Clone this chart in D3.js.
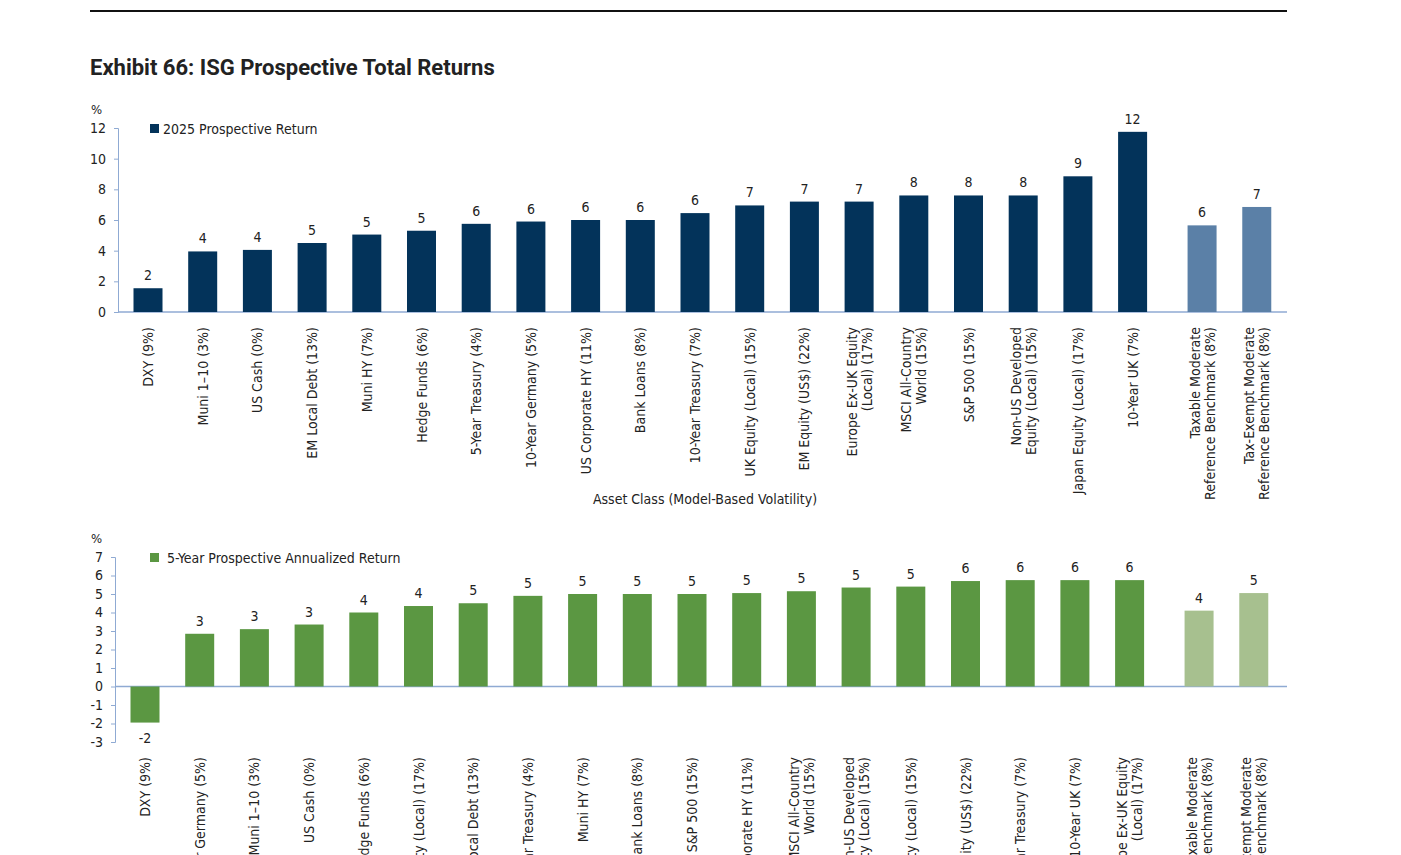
<!DOCTYPE html>
<html>
<head>
<meta charset="utf-8">
<script src="https://cdn.jsdelivr.net/npm/d3@7"></script>
<style>
  body { margin: 0; background: #fff; }
  svg text { font-family: "DejaVu Sans Condensed", "DejaVu Sans", sans-serif; font-stretch: condensed; fill: #222; }
</style>
</head>
<body>
<svg id="chart" width="1401" height="855"></svg>
<script>
'use strict'

// top chart data
const topCats = ['DXY (9%)', 'Muni 1–10 (3%)', 'US Cash (0%)', 'EM Local Debt (13%)', 'Muni HY (7%)',
  'Hedge Funds (6%)', '5-Year Treasury (4%)', '10-Year Germany (5%)', 'US Corporate HY (11%)', 'Bank Loans (8%)',
  '10-Year Treasury (7%)', 'UK Equity (Local) (15%)', 'EM Equity (US$) (22%)', 'Europe Ex-UK Equity|(Local) (17%)',
  'MSCI All-Country|World (15%)', 'S&P 500 (15%)', 'Non-US Developed|Equity (Local) (15%)', 'Japan Equity (Local) (17%)',
  '10-Year UK (7%)', 'Taxable Moderate|Reference Benchmark (8%)', 'Tax-Exempt Moderate|Reference Benchmark (8%)']
const topVals = [1.55, 3.95, 4.05, 4.5, 5.05, 5.3, 5.75, 5.9, 6.0, 6.0, 6.45, 6.95, 7.2, 7.2, 7.6, 7.6, 7.6, 8.85, 11.75, 5.65, 6.85]
const topTicks = [0, 2, 4, 6, 8, 10, 12]

// bottom chart data
const botCats = ['DXY (9%)', '10-Year Germany (5%)', 'Muni 1–10 (3%)', 'US Cash (0%)', 'Hedge Funds (6%)',
  'Japan Equity (Local) (17%)', 'EM Local Debt (13%)', '5-Year Treasury (4%)', 'Muni HY (7%)', 'Bank Loans (8%)',
  'S&P 500 (15%)', 'US Corporate HY (11%)', 'MSCI All-Country|World (15%)', 'Non-US Developed|Equity (Local) (15%)',
  'UK Equity (Local) (15%)', 'EM Equity (US$) (22%)', '10-Year Treasury (7%)', '10-Year UK (7%)',
  'Europe Ex-UK Equity|(Local) (17%)', 'Taxable Moderate|Reference Benchmark (8%)', 'Tax-Exempt Moderate|Reference Benchmark (8%)']
const botVals = [-1.95, 2.85, 3.1, 3.35, 4.0, 4.35, 4.5, 4.9, 5.0, 5.0, 5.0, 5.05, 5.15, 5.35, 5.4, 5.7, 5.75, 5.75, 5.75, 4.1, 5.05]
const botTicks = [-3, -2, -1, 0, 1, 2, 3, 4, 5, 6, 7]

const benchStart = 19
const axisColor = '#8faad3'
const svg = d3.select('#chart')

svg.append('line').attr('x1', 90).attr('x2', 1287).attr('y1', 11).attr('y2', 11)
  .attr('stroke', '#111').attr('stroke-width', 2)
svg.append('text').attr('x', 90).attr('y', 75).attr('font-size', 22).attr('font-weight', 'bold')
  .style('font-family', 'Roboto, sans-serif').style('font-stretch', 'normal').text('Exhibit 66: ISG Prospective Total Returns')

const drawPanel = (cats, vals, ticks, opt) => {
  const g = svg.append('g')
  // position index with a small gap before the benchmarks
  const slot = i => i < benchStart ? i : i + 0.27
  const x = d3.scaleLinear().domain([0, 20.27]).range([opt.x0, opt.x0 + 20.27 * 54.7])
  const y = d3.scaleLinear().domain(opt.dom).range(opt.rng)
  const bw = 29

  g.append('g').attr('transform', `translate(${opt.axisX},0)`)
    .call(d3.axisLeft(y).tickValues(ticks).tickSize(4).tickFormat(d => String(d)))
    .call(a => a.selectAll('line, path').attr('stroke', axisColor))
    .call(a => a.selectAll('text').attr('font-size', 14).attr('fill', '#222').attr('x', -12))
  g.append('line').attr('x1', opt.axisX).attr('x2', 1287).attr('y1', y(0)).attr('y2', y(0))
    .attr('stroke', axisColor).attr('stroke-width', 1.5)
  g.append('text').attr('x', 91).attr('y', y(ticks[ticks.length - 1]) - 14).attr('font-size', 13).text('%')

  g.selectAll('rect.bar').data(vals).join('rect')
    .attr('x', (d, i) => x(slot(i)) - bw / 2).attr('width', bw)
    .attr('y', d => Math.min(y(d), y(0))).attr('height', d => Math.abs(y(d) - y(0)))
    .attr('fill', (d, i) => i < benchStart ? opt.color : opt.light)

  g.selectAll('text.val').data(vals).join('text')
    .attr('x', (d, i) => x(slot(i))).attr('y', d => d >= 0 ? y(d) - 8 : y(d) + 20)
    .attr('text-anchor', 'middle').attr('font-size', 14).text(d => String(Math.round(d)))

  cats.forEach((c, i) => {
    const lines = c.split('|')
    const cx = x(slot(i))
    const t = g.append('text').attr('transform', `translate(${cx},${opt.labelY}) rotate(-90)`)
      .attr('text-anchor', 'end').attr('font-size', 14)
    lines.forEach((ln, k) => {
      t.append('tspan').attr('x', 0).attr('y', 5 + (k - (lines.length - 1) / 2) * 15).text(ln)
    })
  })

  g.append('rect').attr('x', 150).attr('y', opt.legY - 5).attr('width', 9).attr('height', 9).attr('fill', opt.color)
  g.append('text').attr('x', opt.legTx).attr('y', opt.legY + 5).attr('font-size', 14).text(opt.legend)
}

drawPanel(topCats, topVals, topTicks, {
  x0: 148, axisX: 118, dom: [0, 12], rng: [312, 128], labelY: 327,
  color: '#03335a', light: '#5b80a7', legY: 129, legTx: 163, legend: '2025 Prospective Return'
})
svg.append('text').attr('x', 705).attr('y', 504).attr('text-anchor', 'middle').attr('font-size', 14)
  .text('Asset Class (Model-Based Volatility)')

drawPanel(botCats, botVals, botTicks, {
  x0: 145, axisX: 115, dom: [-3, 7], rng: [742, 557], labelY: 757,
  color: '#5b9742', light: '#a7c08f', legY: 558, legTx: 167, legend: '5-Year Prospective Annualized Return'
})
</script>
</body>
</html>
